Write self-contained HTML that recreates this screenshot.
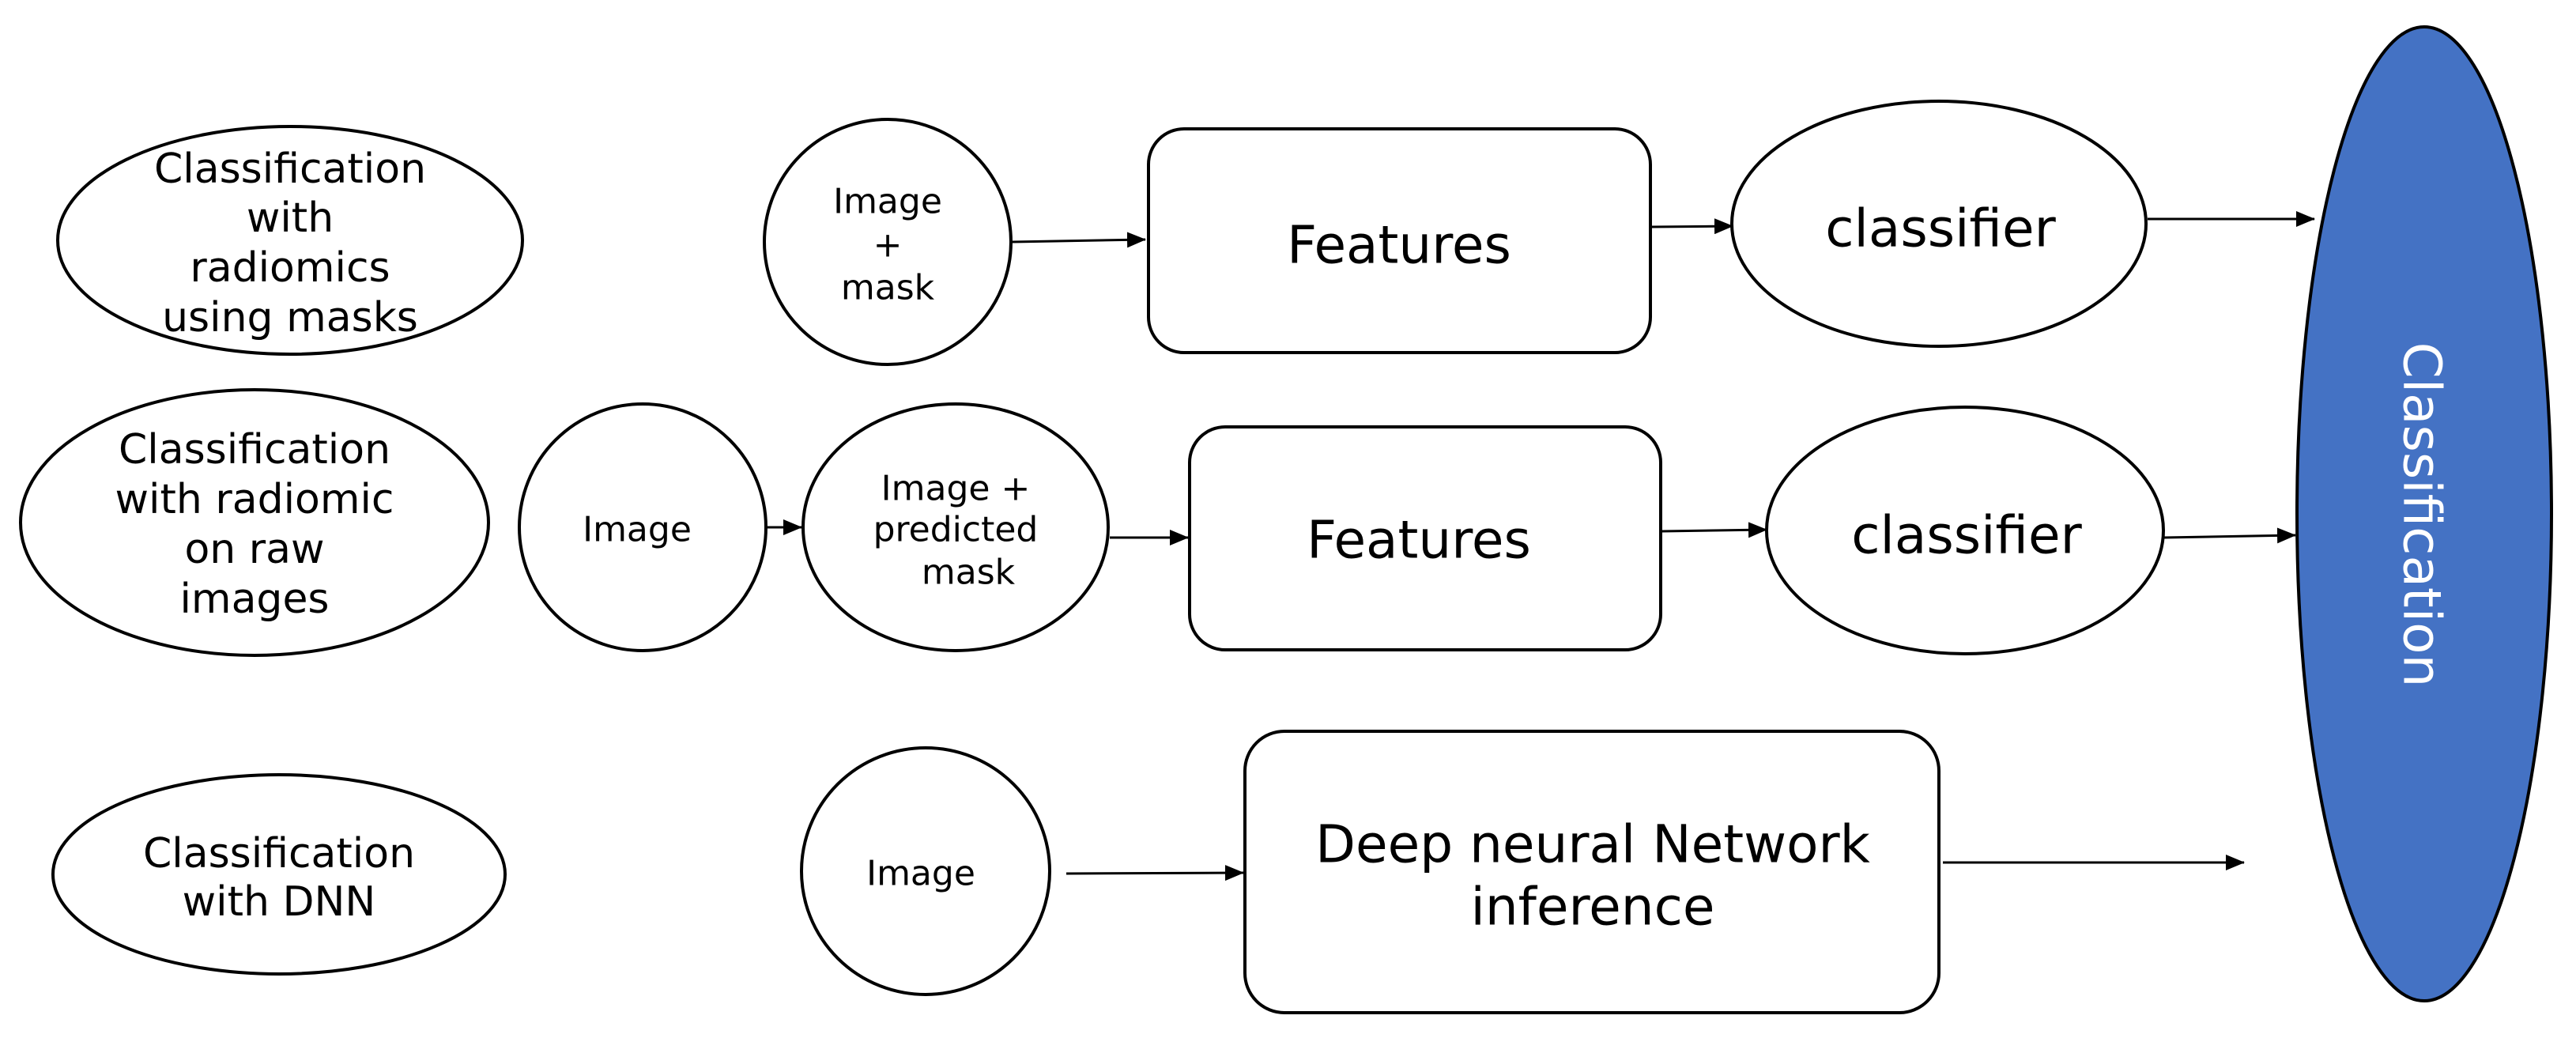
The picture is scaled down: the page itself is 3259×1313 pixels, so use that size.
<!DOCTYPE html>
<html><head><meta charset="utf-8"><style>
html,body{margin:0;padding:0;background:#fff;}
svg{display:block;}
text{font-family:"DejaVu Sans","Liberation Sans",sans-serif;fill:#000;}
</style></head><body>
<svg width="3259" height="1313" viewBox="0 0 3259 1313" xmlns="http://www.w3.org/2000/svg">
<defs>
<marker id="a" markerWidth="24" markerHeight="20" refX="23" refY="10" orient="auto" markerUnits="userSpaceOnUse">
<path d="M0,0 L24,10 L0,20 Z" fill="#000"/>
</marker>
</defs>
<g fill="none" stroke="#000" stroke-width="4">
<ellipse cx="367" cy="304" rx="294" ry="144"/>
<ellipse cx="322" cy="661" rx="296" ry="168"/>
<ellipse cx="353" cy="1106" rx="286" ry="126"/>
<ellipse cx="1123" cy="306" rx="156" ry="155"/>
<ellipse cx="813" cy="667" rx="156" ry="156"/>
<ellipse cx="1209" cy="667" rx="193" ry="156"/>
<ellipse cx="1171" cy="1102" rx="157" ry="156"/>
<rect x="1453" y="163" width="635" height="283" rx="45"/>
<rect x="1505" y="540" width="596" height="282" rx="45"/>
<rect x="1575" y="925" width="878" height="356" rx="50"/>
<ellipse cx="2453" cy="283" rx="262" ry="155"/>
<ellipse cx="2486" cy="671" rx="251" ry="156"/>
</g>
<ellipse cx="3067" cy="650" rx="161" ry="616" fill="#4472C4" stroke="#000" stroke-width="4"/>
<g stroke="#000" stroke-width="3" fill="none" marker-end="url(#a)">
<line x1="1281" y1="306" x2="1449" y2="303"/>
<line x1="2090" y1="287" x2="2192" y2="286"/>
<line x1="2717" y1="277" x2="2928" y2="277"/>
<line x1="969" y1="667" x2="1014" y2="667"/>
<line x1="1404" y1="680" x2="1503" y2="680"/>
<line x1="2103" y1="672" x2="2235" y2="670"/>
<line x1="2738" y1="680" x2="2904" y2="677"/>
<line x1="1349" y1="1105" x2="1573" y2="1104"/>
<line x1="2458" y1="1091" x2="2839" y2="1091"/>
</g>
<g text-anchor="middle" dominant-baseline="central" font-size="52">
<text x="367" y="214">Classification</text>
<text x="367" y="276">with</text>
<text x="367" y="339">radiomics</text>
<text x="367" y="402">using masks</text>
<text x="322" y="569">Classification</text>
<text x="322" y="632">with radiomic</text>
<text x="322" y="695">on raw</text>
<text x="322" y="758">images</text>
<text x="353" y="1080">Classification</text>
<text x="353" y="1141">with DNN</text>
</g>
<g text-anchor="middle" dominant-baseline="central" font-size="44">
<text x="1123" y="255">Image</text>
<text x="1123" y="310">+</text>
<text x="1123" y="364">mask</text>
<text x="806" y="670">Image</text>
<text x="1209" y="618">Image +</text>
<text x="1209" y="670">predicted</text>
<text x="1225" y="724">mask</text>
<text x="1165" y="1105">Image</text>
</g>
<g text-anchor="middle" dominant-baseline="central" font-size="66">
<text x="1770" y="310">Features</text>
<text x="1795" y="683">Features</text>
<text x="2455" y="289">classifier</text>
<text x="2488" y="677">classifier</text>
<text x="2015" y="1068">Deep neural Network</text>
<text x="2015" y="1147">inference</text>
<text x="3064" y="651" fill="#fff" style="fill:#fff" transform="rotate(90 3064 651)">Classification</text>
</g>
</svg>
</body></html>
